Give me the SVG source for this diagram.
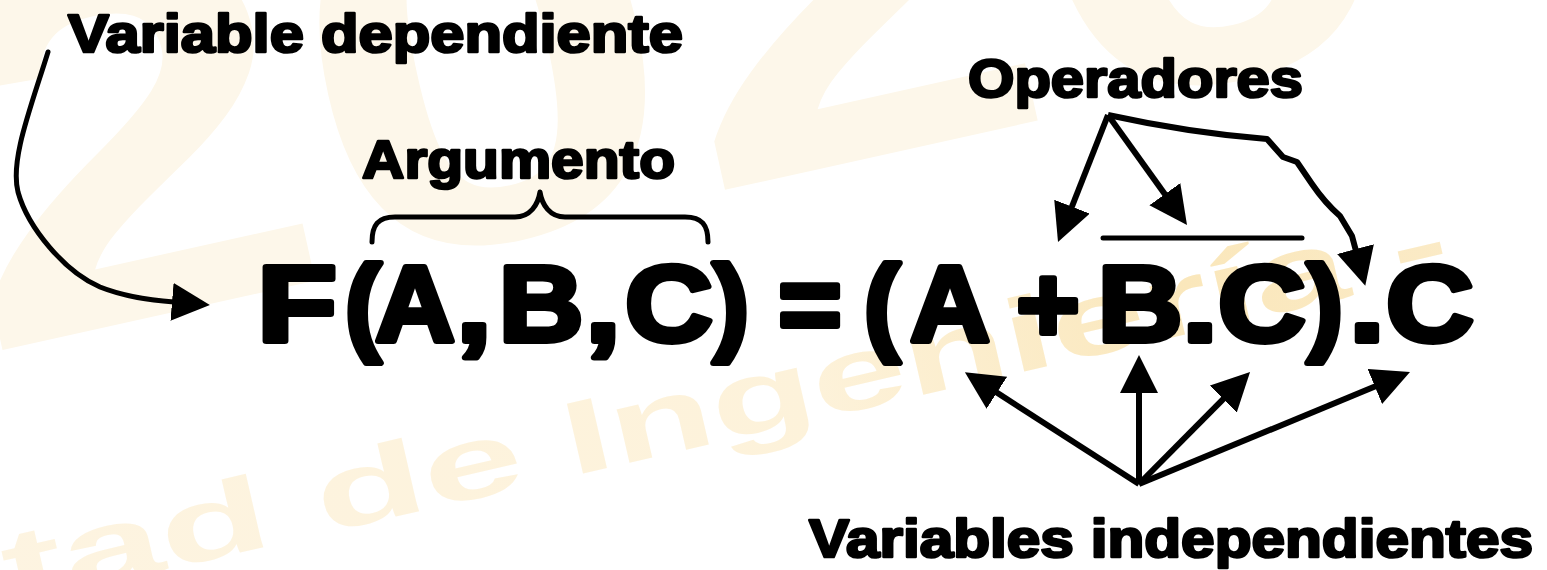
<svg xmlns="http://www.w3.org/2000/svg" width="1547" height="570" viewBox="0 0 1547 570">
  <style>
    .wm { font-family: "Liberation Sans", Arial, sans-serif; font-weight: bold; }
    .lbl { font-family: "Liberation Sans", Arial, sans-serif; font-weight: bold; font-size: 53px; fill: #000; stroke: #000; stroke-width: 2.6; stroke-linejoin: round; }
    .f { font-family: "Liberation Sans", Arial, sans-serif; font-weight: bold; font-size: 108px; fill: #000; stroke: #000; stroke-width: 6; stroke-linejoin: round; text-anchor: middle; }
    .ln { fill: none; stroke: #000; stroke-width: 6; stroke-linejoin: round; }
    .thin { fill: none; stroke: #000; stroke-width: 5; stroke-linejoin: round; stroke-linecap: round; }
  </style>
  <defs>
    <marker id="ah" markerUnits="userSpaceOnUse" markerWidth="40" markerHeight="40" viewBox="0 0 40 40" refX="2" refY="19" orient="auto">
      <path d="M0,0 L38,19 L0,38 Z" fill="#000"/>
    </marker>
    <linearGradient id="wmg" gradientUnits="userSpaceOnUse" x1="-600" y1="0" x2="950" y2="0">
      <stop offset="0" stop-color="#fdf4e1"/>
      <stop offset="0.55" stop-color="#fdf2da"/>
      <stop offset="0.8" stop-color="#fae7bb"/>
      <stop offset="1" stop-color="#fbebc8"/>
    </linearGradient>
  </defs>
  <rect width="1547" height="570" fill="#ffffff"/>

  <g id="watermark">
    <text class="wm" transform="translate(-20,355) rotate(-12.5)" font-size="520" fill="#fdf7ea" textLength="1480" lengthAdjust="spacingAndGlyphs">2020</text>
    <g transform="translate(572,476) rotate(-13)" fill="url(#wmg)">
      <text class="wm" x="-45" y="0" font-size="104" text-anchor="end" textLength="1000" lengthAdjust="spacingAndGlyphs">Facultad de</text>
      <text class="wm" x="0" y="0" font-size="104" textLength="905" lengthAdjust="spacingAndGlyphs">Ingeniería -</text>
    </g>
  </g>

  <g id="connectors">
    <path class="thin" d="M48,52 C30,110 10,160 18,192 C28,228 65,272 100,287 C125,297 150,300 174,302" marker-end="url(#ah)"/>
    <path class="thin" d="M372,242 C372,225 378,217 395,217 L515,217 C530,217 538,205 540,192 C542,205 550,217 565,217 L685,217 C702,217 708,225 708,242"/>
    <line class="ln" x1="1108" y1="115" x2="1071.2" y2="208.5" marker-end="url(#ah)"/>
    <line class="ln" x1="1108" y1="115" x2="1166" y2="195.8" marker-end="url(#ah)"/>
    <path class="ln" d="M1108,115 Q1190,133 1267,139 L1283,157 L1297,162 L1312,184 Q1325,203 1340,216 L1352,236 L1356,251" marker-end="url(#ah)"/>
    <line class="thin" x1="1103" y1="238" x2="1302" y2="238" stroke-width="6"/>
    <line class="ln" x1="1139" y1="484" x2="995.2" y2="391.6" marker-end="url(#ah)"/>
    <line class="ln" x1="1139" y1="484" x2="1139" y2="391" marker-end="url(#ah)"/>
    <line class="ln" x1="1139" y1="484" x2="1224.7" y2="397.6" marker-end="url(#ah)"/>
    <line class="ln" x1="1139" y1="484" x2="1376.7" y2="385.8" marker-end="url(#ah)"/>
  </g>

  <g id="label-variable-dependiente">
    <text class="lbl" x="68" y="52" textLength="615" lengthAdjust="spacingAndGlyphs">Variable dependiente</text>
  </g>
  <g id="label-argumento">
    <text class="lbl" x="362" y="178" font-size="50" textLength="313" lengthAdjust="spacingAndGlyphs">Argumento</text>
  </g>
  <g id="label-operadores">
    <text class="lbl" x="968" y="97" font-size="50" textLength="335" lengthAdjust="spacingAndGlyphs">Operadores</text>
  </g>
  <g id="label-variables-independientes">
    <text class="lbl" x="809" y="557" textLength="724" lengthAdjust="spacingAndGlyphs">Variables independientes</text>
  </g>

  <g id="formula">
    <text class="f" transform="translate(297,341) scale(1.2,1)">F</text>
    <text class="f" transform="translate(363,341)">(</text>
    <text class="f" transform="translate(415,341) scale(1.02,1)">A</text>
    <text class="f" transform="translate(474,341) scale(1.15,1)">,</text>
    <text class="f" transform="translate(541,341) scale(1.08,1)">B</text>
    <text class="f" transform="translate(603,341) scale(1.15,1)">,</text>
    <text class="f" transform="translate(669,341) scale(1.12,1)">C</text>
    <text class="f" transform="translate(731,341)">)</text>
    <text class="f" transform="translate(810,341)">=</text>
    <text class="f" transform="translate(882,341)">(</text>
    <text class="f" transform="translate(950,341) scale(1.02,1)">A</text>
    <text class="f" transform="translate(1048,341)">+</text>
    <text class="f" transform="translate(1140,341) scale(1.08,1)">B</text>
    <text class="f" transform="translate(1200,341) scale(1.15,1)">.</text>
    <text class="f" transform="translate(1262,341) scale(1.12,1)">C</text>
    <text class="f" transform="translate(1325,341)">)</text>
    <text class="f" transform="translate(1367,341) scale(1.15,1)">.</text>
    <text class="f" transform="translate(1430,341) scale(1.12,1)">C</text>
  </g>
</svg>
